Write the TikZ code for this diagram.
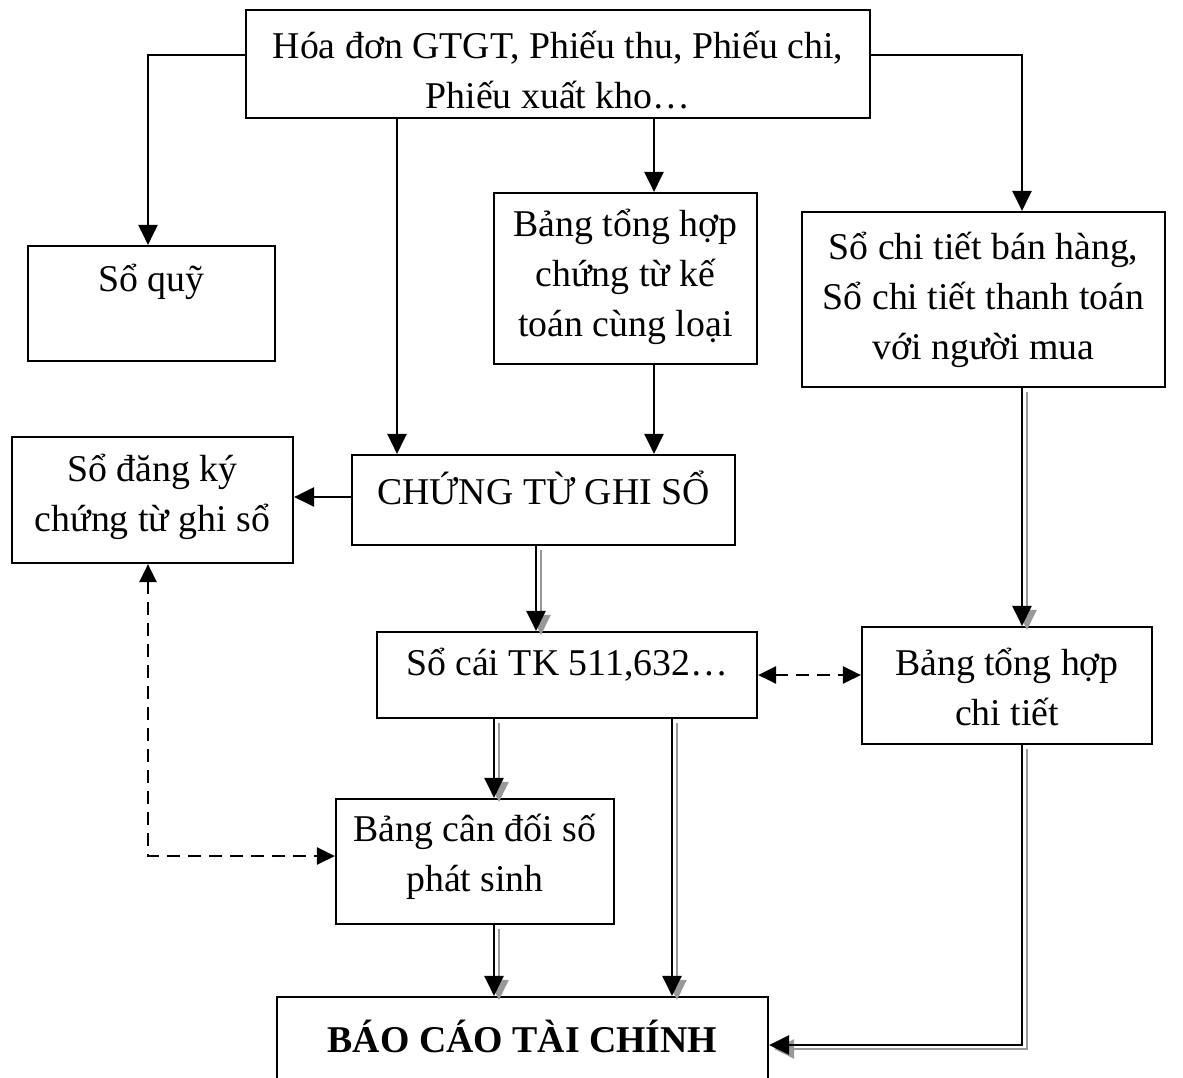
\documentclass[tikz,border=0pt]{standalone}
\usepackage{fontspec}
\setmainfont{Liberation Serif}
\usetikzlibrary{arrows.meta}
\newcommand\shadowed[1]{\draw[shadowline] #1; \draw[mainline] #1;}
\begin{document}
\begin{tikzpicture}[x=1pt,y=-1pt,
  box/.style={draw, line width=2.2pt, inner sep=0pt},
  txt/.style={font=\fontsize{37.8}{50}\selectfont, align=center, inner sep=0pt},
  arr/.style={line width=2.6pt, -{Triangle[length=20pt,width=19pt]}},
  mainline/.style={arr},
  shadowline/.style={arr, draw=gray!80, transform canvas={xshift=5pt,yshift=-4pt}},
  dashline/.style={line width=2.6pt, dash pattern=on 13pt off 8pt,
    {Triangle[length=18pt,width=17pt]}-{Triangle[length=18pt,width=17pt]}}
]
\clip (0,0) rectangle (1183,1077);

% boxes
\node[box, minimum width=624pt, minimum height=108pt] (ct0) at (558,64) {};
\node[txt] at (558,70) {Hóa đơn GTGT, Phiếu thu, Phiếu chi,\\Phiếu xuất kho…};

\node[box, minimum width=247pt, minimum height=115pt] (soquy) at (151.5,303.5) {};
\node[txt] at (151.5,282) {Sổ quỹ};

\node[box, minimum width=263pt, minimum height=171pt] (bth) at (625.5,278.5) {};
\node[txt] at (625.5,277) {Bảng tổng hợp\\chứng từ kế\\toán cùng loại};

\node[box, minimum width=363pt, minimum height=175pt] (sct) at (983.5,299.5) {};
\node[txt] at (983.5,300) {Sổ chi tiết bán hàng,\\Sổ chi tiết thanh toán\\với người mua};

\node[box, minimum width=281pt, minimum height=126pt] (sodk) at (152.5,500) {};
\node[txt] at (152.5,497) {Sổ đăng ký\\chứng từ ghi sổ};

\node[box, minimum width=383pt, minimum height=90pt] (ctgs) at (543.5,500) {};
\node[txt] at (543.5,488) {CHỨNG TỪ GHI SỔ};

\node[box, minimum width=380pt, minimum height=86pt] (socai) at (567,675) {};
\node[txt] at (567,665) {Sổ cái TK 511,632…};

\node[box, minimum width=290pt, minimum height=117pt] (bthct) at (1007,685.5) {};
\node[txt] at (1007,687) {Bảng tổng hợp\\chi tiết};

\node[box, minimum width=278pt, minimum height=125pt] (bcd) at (475,861.5) {};
\node[txt] at (475,857) {Bảng cân đối số\\phát sinh};

\node[box, minimum width=491pt, minimum height=110pt] (bctc) at (522.5,1052) {};
\node[txt, font=\fontsize{37.8}{50}\selectfont\bfseries] at (522.5,1036) {BÁO CÁO TÀI CHÍNH};

% column positions of the connectors
\coordinate (x148) at (148,0);
\coordinate (x397) at (397,0);
\coordinate (x654) at (654,0);
\coordinate (x1022) at (1022,0);
\coordinate (x536) at (536,0);
\coordinate (x494) at (494,0);
\coordinate (x672) at (672,0);

% single arrows
\draw[arr] ([yshift=9pt]ct0.west) -| (soquy.north -| x148);
\draw[arr] ([yshift=9pt]ct0.east) -| (sct.north -| x1022);
\draw[arr] (ct0.south -| x397) -- (ctgs.north -| x397);
\draw[arr] (ct0.south -| x654) -- (bth.north -| x654);
\draw[arr] (bth.south -| x654) -- (ctgs.north -| x654);
\draw[arr] ([yshift=3pt]ctgs.west) -- ([yshift=3pt]ctgs.west -| sodk.east);

% shadowed arrows
\shadowed{(ctgs.south -| x536) -- (socai.north -| x536)}
\shadowed{(sct.south -| x1022) -- (bthct.north -| x1022)}
\shadowed{(socai.south -| x494) -- (bcd.north -| x494)}
\shadowed{(socai.south -| x672) -- (bctc.north -| x672)}
\shadowed{(bcd.south -| x494) -- (bctc.north -| x494)}
\shadowed{(bthct.south -| x1022) |- ([yshift=7pt]bctc.east)}

% dashed two-way links
\draw[dashline] (socai.east) -- (socai.east -| bthct.west);
\draw[dashline] (sodk.south -| x148) |- ([yshift=5.5pt]bcd.west);
\end{tikzpicture}
\end{document}
